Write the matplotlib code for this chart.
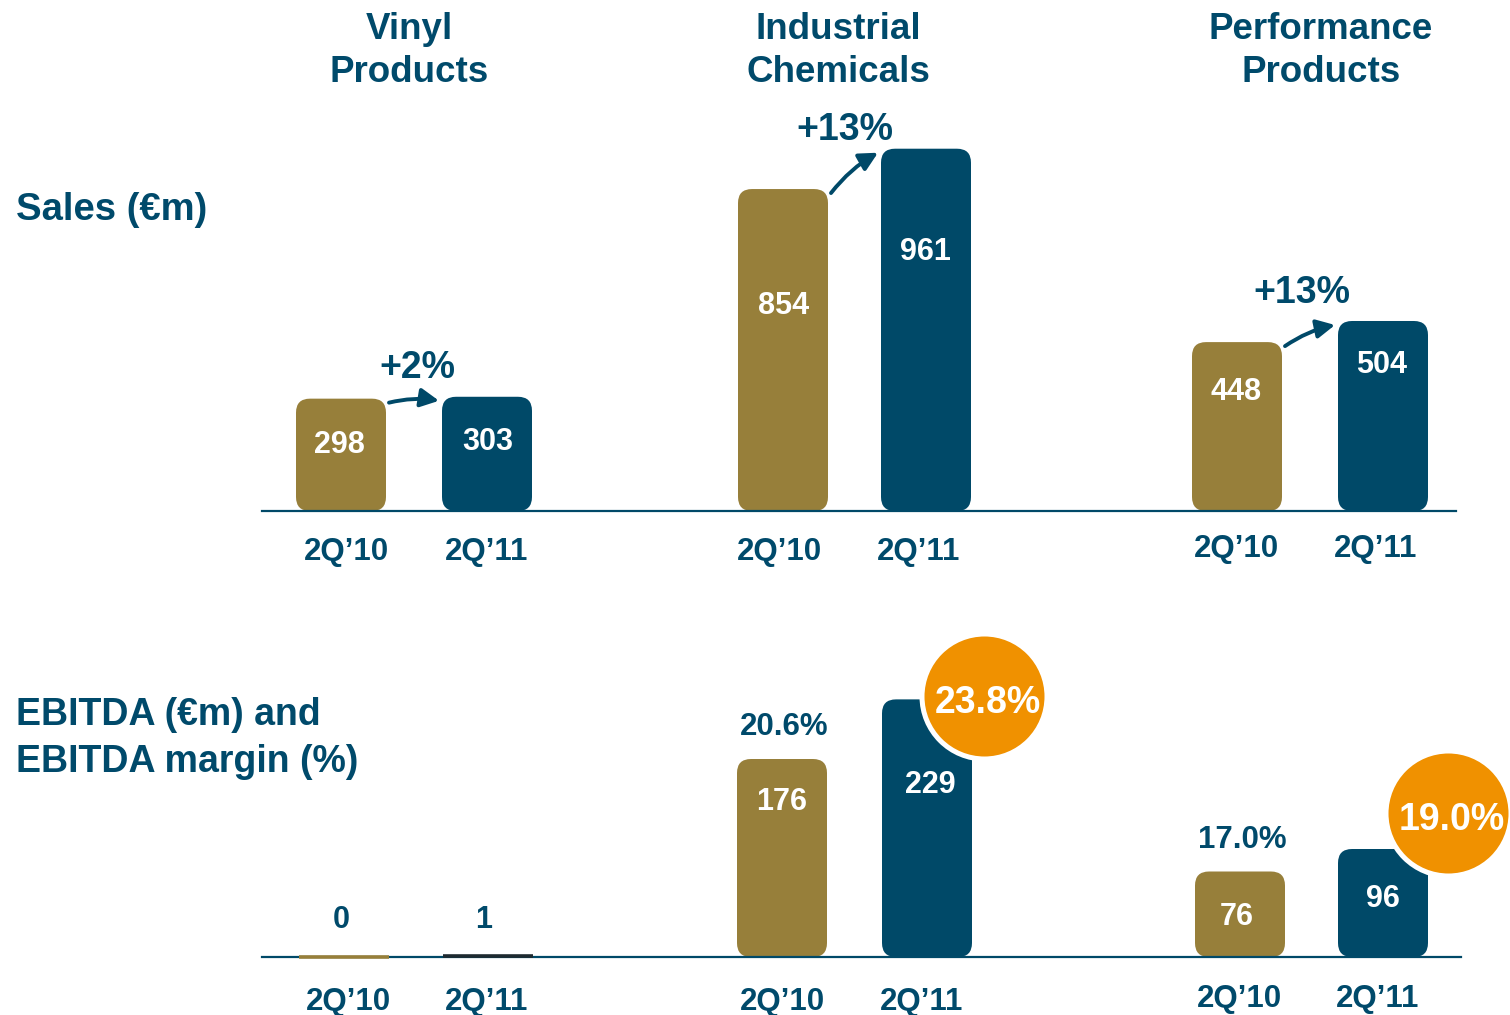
import matplotlib.pyplot as plt
from matplotlib.patches import FancyBboxPatch

plt.rcParams['font.family'] = ['Liberation Sans', 'DejaVu Sans']

# --- data ---
segments = [("Vinyl", "Products"), ("Industrial", "Chemicals"), ("Performance", "Products")]
periods = ["2Q’10", "2Q’11"]
sales_2q10 = [298, 854, 448]
sales_2q11 = [303, 961, 504]
sales_growth = ["+2%", "+13%", "+13%"]
ebitda_2q10 = [0, 176, 76]
ebitda_2q11 = [1, 229, 96]
margin_2q10 = [None, "20.6%", "17.0%"]
margin_2q11 = [None, "23.8%", "19.0%"]

# --- layout (pixels of the 1510x1015 canvas) ---
W, H = 1510, 1015
NAVY = '#004968'
TXT = '#004A6B'
GOLD = '#977F3A'
ORANGE = '#F09100'
DARK = '#1E2A30'

SALES_BASE, EBITDA_BASE = 511, 957
SALES_PX = 0.377      # px per EUR m
EBITDA_PX = 1.125
BAR_W = 90

title_x = [409, 838, 1321]
sales_cx = [(341, 487), (783, 926), (1237, 1383)]
ebitda_cx = [(344, 488), (782, 927), (1240, 1383)]
sales_lab_x = [(339, 488), (784, 925), (1236, 1382)]
sales_lab_y = [(453, 450), (314, 260), (400, 373)]
ebitda_lab_x = [(341, 484), (782, 930), (1237, 1383)]
ebitda_lab_y = [(928, 928), (810, 793), (925, 907)]
sales_tick_x = [(346, 487), (779, 919), (1236, 1376)]
sales_tick_y = [560, 560, 557]
ebitda_tick_x = [(348, 487), (782, 922), (1239, 1378)]
ebitda_tick_y = [1010, 1010, 1007]
growth_xy = [(417, 378), (845, 140), (1302, 303)]
circle_xy = [None, (984, 696), (1448, 813)]
CIRCLE_R = 60


def fxy(x, y):
    return x / W, 1 - y / H


fig = plt.figure(figsize=(W / 100, H / 100), dpi=100)

ax_s = fig.add_axes([0, 1 - SALES_BASE / H, 1, 1000 * SALES_PX / H])
ax_s.set_xlim(0, W)
ax_s.set_ylim(0, 1000)
ax_e = fig.add_axes([0, 1 - EBITDA_BASE / H, 1, 300 * EBITDA_PX / H])
ax_e.set_xlim(0, W)
ax_e.set_ylim(0, 300)
for ax in (ax_s, ax_e):
    ax.axis('off')


def rounded_bar(ax, cx, val, color, px_per_unit):
    if val < 5:
        # too small to see: draw a flat stroke at the baseline
        ax.plot([cx - BAR_W / 2, cx + BAR_W / 2], [val, val], color=color,
                lw=2.6, solid_capstyle='butt', clip_on=False, zorder=4)
        return
    p = FancyBboxPatch((cx - BAR_W / 2, 0), BAR_W, val,
                       boxstyle="round,pad=0,rounding_size=14",
                       mutation_aspect=1 / px_per_unit,
                       fc=color, ec='none', zorder=2, clip_on=False)
    ax.add_patch(p)


# headers
for tx, (l1, l2) in zip(title_x, segments):
    fig.text(*fxy(tx, 39), l1, ha='center', va='baseline', fontsize=26.5,
             fontweight='bold', color=TXT)
    fig.text(*fxy(tx, 82), l2, ha='center', va='baseline', fontsize=26.5,
             fontweight='bold', color=TXT)

fig.text(*fxy(16, 220), "Sales (€m)", ha='left', va='baseline', fontsize=27.5,
         fontweight='bold', color=TXT)
fig.text(*fxy(16, 725), "EBITDA (€m) and", ha='left', va='baseline', fontsize=27,
         fontweight='bold', color=TXT)
fig.text(*fxy(16, 772), "EBITDA margin (%)", ha='left', va='baseline', fontsize=27,
         fontweight='bold', color=TXT)

# sales panel
ax_s.plot([262, 1456], [0, 0], color=NAVY, lw=1.6, zorder=3, clip_on=False)
for i in range(3):
    vals = (sales_2q10[i], sales_2q11[i])
    for j, (v, col) in enumerate(zip(vals, (GOLD, NAVY))):
        rounded_bar(ax_s, sales_cx[i][j], v, col, SALES_PX)
        fig.text(*fxy(sales_lab_x[i][j], sales_lab_y[i][j]), str(v), ha='center',
                 va='baseline', fontsize=22, fontweight='bold', color='white', zorder=5)
        fig.text(*fxy(sales_tick_x[i][j], sales_tick_y[i]), periods[j], ha='center',
                 va='baseline', fontsize=22.5, fontweight='bold', color=TXT)
    x0 = sales_cx[i][0] + BAR_W / 2 + 3
    x1 = sales_cx[i][1] - BAR_W / 2 - 3
    ax_s.annotate('', xy=(x1, vals[1] - 4 / SALES_PX), xytext=(x0, vals[0] - 4 / SALES_PX),
                  arrowprops=dict(arrowstyle='-|>,head_length=0.55,head_width=0.28',
                                  mutation_scale=20, lw=2.8, color=NAVY,
                                  shrinkA=0, shrinkB=0,
                                  connectionstyle='arc3,rad=-0.1'),
                  annotation_clip=False)
    fig.text(*fxy(*growth_xy[i]), sales_growth[i], ha='center', va='baseline',
             fontsize=27, fontweight='bold', color=TXT)

# ebitda panel
ax_e.plot([262, 1461], [0, 0], color=NAVY, lw=1.6, zorder=3, clip_on=False)
for i in range(3):
    vals = (ebitda_2q10[i], ebitda_2q11[i])
    for j, v in enumerate(vals):
        small = v < 5
        col = (GOLD, NAVY)[j] if not (small and j == 1) else DARK
        rounded_bar(ax_e, ebitda_cx[i][j], v, col, EBITDA_PX)
        fig.text(*fxy(ebitda_lab_x[i][j], ebitda_lab_y[i][j]), str(v),
                 ha='center', va='baseline', fontsize=22, fontweight='bold',
                 color=TXT if small else 'white', zorder=5)
        fig.text(*fxy(ebitda_tick_x[i][j], ebitda_tick_y[i]), periods[j], ha='center',
                 va='baseline', fontsize=22.5, fontweight='bold', color=TXT)
    if margin_2q10[i]:
        ax_e.text(ebitda_cx[i][0] + 2, vals[0] + 24 / EBITDA_PX, margin_2q10[i],
                  ha='center', va='baseline', fontsize=22.5, fontweight='bold', color=TXT)
    if margin_2q11[i]:
        cx, cy = circle_xy[i]
        d_pt = (2 * CIRCLE_R + 5) * 0.72
        ax_e.scatter([cx], [(EBITDA_BASE - cy) / EBITDA_PX], s=d_pt ** 2, color=ORANGE,
                     edgecolor='white', linewidth=3.6, zorder=6, clip_on=False)
        fig.text(*fxy(cx + 4, cy + 17), margin_2q11[i], ha='center', va='baseline',
                 fontsize=27, fontweight='bold', color='white', zorder=7)

fig.savefig('out.png', dpi=100)
